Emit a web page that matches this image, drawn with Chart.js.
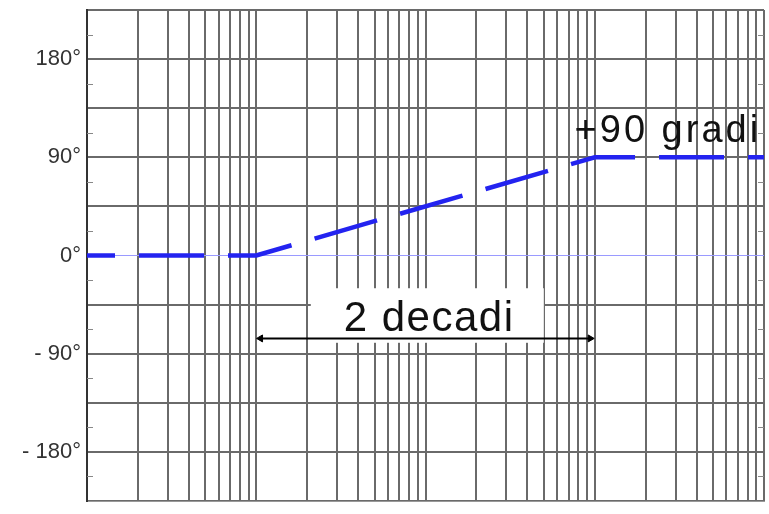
<!DOCTYPE html>
<html>
<head>
<meta charset="utf-8">
<script src="https://cdn.jsdelivr.net/npm/chart.js@4/dist/chart.umd.min.js"></script>
<style>
  html, body { margin: 0; padding: 0; background: #fff; }
</style>
</head>
<body>
<canvas id="phase" width="769" height="514"></canvas>
<script>
// asymptotic phase plot: flat, +45 deg/decade over two decades, flat again
const freqs = [1, 10, 1000, 10000];
const phase = [0, 0, 90, 90];

// the "2 decadi" arrow (tips sit just inside 10 and 1000)
const arrowFreqs = [10.6, 940];
const arrowPhase = [-76, -76];

// y axis labels (only some grid lines carry one)
const yTickValues = [180, 90, 0, -90, -180];
const yTickTexts = ['180°', '90°', '0°', '- 90°', '- 180°'];
const yMinorTicks = [-202.5, -157.5, -112.5, -67.5, -22.5, 22.5, 67.5, 112.5, 157.5, 202.5];

// log grid: every 1..9 of each decade
const decades = [1, 10, 100, 1000];
const mantissas = [1, 2, 3, 4, 5, 6, 7, 8, 9];

const GRID = '#6a6a6a';
const FONT = "'Liberation Sans', Arial, sans-serif";

const notes = [
    { text: '2 decadi', x: 105, y: -69, size: 42, spacing: 1.5, align: 'center' },
    { text: '+90 gradi', x: 760, y: 104, size: 38, spacing: 3, align: 'left' },
];
const patch = { x0: 21, x1: 500, y0: -30, y1: -80 };   // white area behind "2 decadi"

const annotate = {
    id: 'annotate',
    beforeDatasetsDraw(chart) {
        const { ctx, chartArea, scales: { x, y } } = chart;
        ctx.save();
        // small ticks along both side borders
        ctx.strokeStyle = '#888';
        ctx.lineWidth = 1;
        yMinorTicks.forEach(v => {
            const py = Math.round(y.getPixelForValue(v)) + 0.5;
            ctx.beginPath();
            ctx.moveTo(chartArea.left, py);
            ctx.lineTo(chartArea.left + 6, py);
            ctx.moveTo(chartArea.right - 6, py);
            ctx.lineTo(chartArea.right, py);
            ctx.stroke();
        });
        // blank the grid behind the decade label
        const px0 = x.getPixelForValue(patch.x0), px1 = x.getPixelForValue(patch.x1);
        const py0 = y.getPixelForValue(patch.y0), py1 = y.getPixelForValue(patch.y1);
        ctx.fillStyle = '#fff';
        ctx.fillRect(px0, py0, px1 - px0, py1 - py0);
        ctx.restore();
    },
    afterDatasetsDraw(chart) {
        const { ctx, scales: { x, y } } = chart;
        ctx.save();
        ctx.fillStyle = '#111';
        ctx.textBaseline = 'alphabetic';
        notes.forEach(n => {
            ctx.font = `${n.size}px ${FONT}`;
            ctx.letterSpacing = `${n.spacing}px`;
            ctx.textAlign = n.align;
            ctx.fillText(n.text, x.getPixelForValue(n.x), y.getPixelForValue(n.y));
        });
        ctx.restore();
    }
};

new Chart(document.getElementById('phase'), {
    type: 'line',
    data: {
        datasets: [
            {
                data: arrowFreqs.map((f, i) => ({ x: f, y: arrowPhase[i] })),
                borderColor: '#000',
                backgroundColor: '#000',
                borderWidth: 2,
                pointStyle: 'triangle',
                pointRotation: [-90, 90],
                pointRadius: 4,
                pointBorderWidth: 1,
            },
            {
                data: freqs.map((f, i) => ({ x: f, y: phase[i] })),
                borderColor: 'rgb(35, 35, 240)',
                borderWidth: 4.5,
                borderDash: [65, 24],
                borderDashOffset: 37,
                borderCapStyle: 'butt',
                pointRadius: 0,
                tension: 0,
            },
        ],
    },
    options: {
        responsive: false,
        animation: false,
        layout: { padding: { top: 10, bottom: 13, left: 0, right: 2 } },
        plugins: { legend: { display: false }, tooltip: { enabled: false } },
        scales: {
            x: {
                type: 'logarithmic',
                min: 1,
                max: 10000,
                afterBuildTicks: scale => {
                    const ticks = [];
                    decades.forEach(d => mantissas.forEach(m => ticks.push({ value: d * m })));
                    ticks.push({ value: 10000 });
                    scale.ticks = ticks;
                },
                ticks: { display: false },
                grid: { color: GRID, lineWidth: 2, drawTicks: false },
                border: { color: '#999', width: 1 },
            },
            y: {
                min: -225,
                max: 225,
                ticks: {
                    stepSize: 45,
                    padding: 6,
                    color: '#333',
                    font: { family: FONT, size: 22 },
                    callback: v => {
                        const i = yTickValues.indexOf(v);
                        return i >= 0 ? yTickTexts[i] : '';
                    },
                },
                grid: {
                    drawTicks: false,
                    color: c => (c.tick && c.tick.value === 0 ? '#9a9aff' : GRID),
                    lineWidth: c => (c.tick && c.tick.value === 0 ? 1 : 2),
                },
                border: { color: '#333', width: 2 },
                afterFit: scale => {
                    scale.width = 87;
                    scale.paddingTop = 0;
                    scale.paddingBottom = 0;
                },
            },
        },
    },
    plugins: [annotate],
});
</script>
</body>
</html>
